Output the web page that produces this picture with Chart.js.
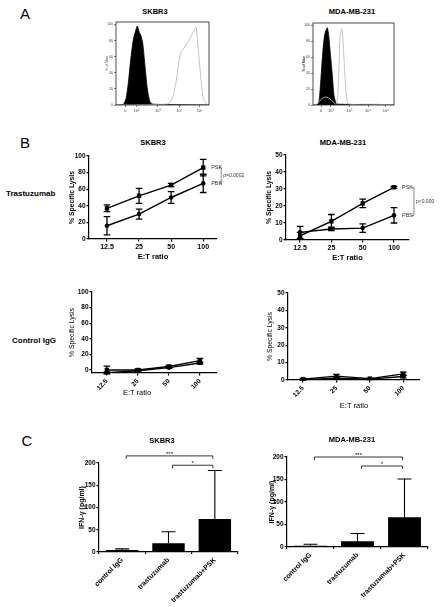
<!DOCTYPE html>
<html>
<head>
<meta charset="utf-8">
<script src="https://cdn.jsdelivr.net/npm/chart.js@4"></script>
<style>
body { margin: 0; background: #fff; }
#fig { position: relative; width: 443px; height: 607px; overflow: hidden; font-family: 'Liberation Sans', Arial, sans-serif; }
#fig canvas { position: absolute; }
.t { position: absolute; white-space: nowrap; line-height: 1; color: #000; z-index: 2; }
</style>
</head>
<body>
<div id="fig"></div>
<script>
// ---- data ----
// A: flow histograms (x = position across the log axis, 0-100; y = % of max)
const skbrIsoX = [0, 7.9, 10.8, 13.3, 15.8, 18.6, 21.1, 22.9, 25.1, 26.5, 28.7, 31.2, 33.7, 36.6, 40.1, 100];
const skbrIsoY = [0, 1, 8, 28, 56, 81, 92, 98, 90, 87, 77, 48, 20, 4, 1, 0];
const skbrHerX = [0, 52.7, 58.1, 61.6, 64.5, 67.0, 69.5, 72.4, 75.3, 77.8, 80.6, 83.9, 86.0, 88.5, 91.0, 93.9, 97.5, 100];
const skbrHerY = [0, 1, 3, 12, 28, 48, 65, 69, 75, 79, 85, 93, 97, 69, 36, 8, 1, 0];
const mdaIsoX = [0, 6.2, 8.2, 10.3, 12.3, 14.4, 16.5, 17.7, 19.3, 21.4, 23.9, 25.9, 28.8, 32.9, 100];
const mdaIsoY = [0, 1, 12, 41, 69, 88, 95, 97, 88, 65, 37, 12, 2, 1, 0];
const mdaHerX = [0, 4.1, 8.2, 12.3, 16.5, 20.6, 24.7, 28.8, 30.9, 32.1, 33.3, 35.0, 36.2, 37.9, 39.9, 42.0, 44.4, 60, 75, 100];
const mdaHerY = [0, 1, 5, 9, 10, 8, 4, 1, 16, 49, 82, 96, 92, 65, 29, 6, 1, 1, 1, 0];
const histTicks = [10, 22, 45, 68, 90];
const histTickLabels = ['0', '10²', '10³', '10⁴', '10⁵'];
const pctTicks = [0, 20, 40, 60, 80, 100];

// B: % specific lysis
const etRatios = ['12.5', '25', '50', '100'];
const skbrTrasPSK = [37, 52, 65, 86];
const skbrTrasPSKErr = [4, 9, 2, 10];
const skbrTrasPBS = [16, 30, 50, 67];
const skbrTrasPBSErr = [11, 6, 7, 11];
const mdaTrasPSK = [2.5, 11, 21.5, 31];
const mdaTrasPSKErr = [2, 4, 2.5, 0.5];
const mdaTrasPBS = [4.5, 6.5, 7, 14.5];
const mdaTrasPBSErr = [3.5, 1, 2.5, 4.5];
const skbrCtrlPSK = [0, 0, 4.5, 12];
const skbrCtrlPSKErr = [5, 1.5, 1.5, 3];
const skbrCtrlPBS = [-3.5, -1, 3, 9];
const skbrCtrlPBSErr = [1, 1, 1, 1.5];
const mdaCtrlPSK = [0.5, 2.2, 0.8, 3.5];
const mdaCtrlPSKErr = [0.4, 1, 0.3, 1];
const mdaCtrlPBS = [0.2, 1, 0.5, 2];
const mdaCtrlPBSErr = [0.3, 0.5, 0.3, 0.8];
const lysis100Ticks = [0, 20, 40, 60, 80, 100];
const lysis50Ticks = [0, 10, 20, 30, 40, 50];

// C: IFN-gamma
const groups = ['control IgG', 'trastuzumab', 'trastuzumab+PSK'];
const skbrIfn = [4.5, 19.5, 74];
const skbrIfnErr = [2.5, 26, 109];
const mdaIfn = [3, 13, 66];
const mdaIfnErr = [3, 17, 85];
const ifnTicks = [0, 50, 100, 150, 200];
const sigPairs = [[0, 2], [1, 2]];
const sigMarks = ['***', '*'];
const skbrSigAt = [216, 195];
const mdaSigAt = [200, 180];

// ---- helpers ----
const FONT = "'Liberation Sans', Arial, sans-serif";
Chart.defaults.font.family = FONT;
Chart.defaults.color = '#000';
Chart.defaults.animation = false;
Chart.defaults.plugins.legend.display = false;
Chart.defaults.plugins.tooltip.enabled = false;

const fig = document.getElementById('fig');

function text(str, x, y, size, weight, center) {
  const d = document.createElement('div');
  d.className = 't';
  d.textContent = str;
  d.style.left = x + 'px';
  d.style.top = y + 'px';
  d.style.fontSize = size + 'px';
  d.style.fontWeight = weight;
  d.style.transform = center ? 'translate(-50%,-50%)' : 'translate(0,-50%)';
  fig.appendChild(d);
}

// canvas sized so that the plot area lands on `a` (l, r, t, b in page px)
function place(a, yW, xH, padT, padR) {
  const c = document.createElement('canvas');
  c.width = yW + a.r - a.l + padR;
  c.height = padT + a.b - a.t + xH;
  c.style.left = (a.l - yW) + 'px';
  c.style.top = (a.t - padT) + 'px';
  fig.appendChild(c);
  return c;
}
const fixW = w => s => { s.width = w; s.paddingTop = s.paddingBottom = s.paddingLeft = s.paddingRight = 0; };
const fixH = h => s => { s.height = h; s.paddingTop = s.paddingBottom = s.paddingLeft = s.paddingRight = 0; };
const pts = arr => arr.map((v, i) => ({ x: i, y: v }));
const xy = (xs, ys) => xs.map((x, i) => ({ x: x, y: ys[i] }));

function yAxis(o) {
  return {
    type: 'linear', min: o.min, max: o.max,
    afterBuildTicks: s => { s.ticks = o.ticks.map(v => ({ value: v })); },
    afterFit: fixW(o.w),
    ticks: { padding: o.pad == null ? 1 : o.pad, font: { size: o.tick, weight: 'bold' } },
    grid: { drawOnChartArea: false, tickLength: o.tl || 2.5, color: '#000', lineWidth: o.lw || 1.2 },
    border: { color: '#000', width: o.lw || 1.2 },
    title: { display: true, text: o.title, padding: 0, font: { size: o.ts, weight: o.tb ? 'bold' : 'normal' } }
  };
}

function etAxis(o) {
  return {
    type: 'linear', min: o.min, max: o.max,
    afterBuildTicks: s => { s.ticks = etRatios.map((_, i) => ({ value: i })); },
    afterFit: fixH(o.h),
    ticks: {
      callback: v => etRatios[v], autoSkip: false, padding: o.pad || 1,
      minRotation: o.rot, maxRotation: o.rot, font: { size: o.tick, weight: 'bold' }
    },
    grid: { drawOnChartArea: false, tickLength: 2.5, color: '#000', lineWidth: 1.2 },
    border: { color: '#000', width: 1.2 },
    title: { display: !!o.title, text: 'E:T ratio', padding: 0, font: { size: 7.5, weight: o.tb ? 'bold' : 'normal' } }
  };
}

const errorBars = {
  id: 'errorBars',
  afterDatasetsDraw(chart) {
    const ctx = chart.ctx, ys = chart.scales.y;
    chart.data.datasets.forEach((d, i) => {
      if (!d.errors) return;
      const meta = chart.getDatasetMeta(i);
      ctx.save();
      ctx.strokeStyle = '#000';
      ctx.lineWidth = d.errWidth || 1.2;
      meta.data.forEach((el, j) => {
        const raw = d.data[j];
        const v = typeof raw === 'object' ? raw.y : raw;
        const e = d.errors[j];
        const top = ys.getPixelForValue(v + e);
        const bot = d.upOnly ? el.y : ys.getPixelForValue(v - e);
        const h = d.cap;
        ctx.beginPath();
        ctx.moveTo(el.x, top); ctx.lineTo(el.x, bot);
        ctx.moveTo(el.x - h, top); ctx.lineTo(el.x + h, top);
        if (!d.upOnly) { ctx.moveTo(el.x - h, bot); ctx.lineTo(el.x + h, bot); }
        ctx.stroke();
      });
      ctx.restore();
    });
  }
};

function endLabels(names, note, dx, bx) {
  return {
    id: 'endLabels',
    afterDatasetsDraw(chart) {
      const ctx = chart.ctx, xs = chart.scales.x, ys = chart.scales.y;
      ctx.save();
      ctx.font = '5.5px ' + FONT;
      ctx.fillStyle = '#333';
      ctx.textBaseline = 'middle';
      const yy = chart.data.datasets.map((d, i) => {
        const p = d.data[d.data.length - 1];
        const py = ys.getPixelForValue(p.y);
        ctx.fillText(names[i], xs.getPixelForValue(p.x) + dx, py);
        return py;
      });
      const x = xs.getPixelForValue(etRatios.length - 1) + bx;
      ctx.strokeStyle = '#555';
      ctx.lineWidth = 0.7;
      ctx.beginPath();
      ctx.moveTo(x - 2.5, yy[0]); ctx.lineTo(x, yy[0]); ctx.lineTo(x, yy[1]); ctx.lineTo(x - 2.5, yy[1]);
      ctx.stroke();
      ctx.font = '5px ' + FONT;
      ctx.fillText(note, x + 2, (yy[0] + yy[1]) / 2);
      ctx.restore();
    }
  };
}

function sigBrackets(levels) {
  return {
    id: 'sig',
    afterDraw(chart) {
      const ctx = chart.ctx, xs = chart.scales.x, ys = chart.scales.y;
      ctx.save();
      ctx.strokeStyle = '#000';
      ctx.lineWidth = 0.8;
      ctx.fillStyle = '#000';
      ctx.font = '6px ' + FONT;
      ctx.textAlign = 'center';
      ctx.textBaseline = 'bottom';
      sigPairs.forEach((p, k) => {
        const x1 = xs.getPixelForValue(p[0]) + 4, x2 = xs.getPixelForValue(p[1]) - 2;
        const y = ys.getPixelForValue(levels[k]);
        ctx.beginPath();
        ctx.moveTo(x1, y + 3); ctx.lineTo(x1, y); ctx.lineTo(x2, y); ctx.lineTo(x2, y + 3);
        ctx.stroke();
        ctx.fillText(sigMarks[k], (x1 + x2) / 2, y + 1);
      });
      ctx.restore();
    }
  };
}

const frame = {
  id: 'frame',
  afterDraw(chart) {
    const a = chart.chartArea, ctx = chart.ctx;
    ctx.save();
    ctx.strokeStyle = '#222';
    ctx.lineWidth = 0.8;
    ctx.strokeRect(a.left, a.top, a.right - a.left, a.bottom - a.top);
    ctx.restore();
  }
};

// ---- A: histograms ----
function histogram(area, iso, her, ytb) {
  new Chart(place(area, 11, 12, 4, 4), {
    type: 'line',
    data: {
      datasets: [
        { data: her, borderColor: '#bdbdbd', borderWidth: 0.9, pointRadius: 0, fill: false, tension: 0.25 },
        { data: iso, borderColor: '#000', backgroundColor: '#000', borderWidth: 0.8, pointRadius: 0, fill: 'origin', tension: 0.25 }
      ]
    },
    options: {
      responsive: false,
      layout: { padding: { top: 4, right: 4 } },
      scales: {
        x: {
          type: 'linear', min: 0, max: 100,
          afterBuildTicks: s => { s.ticks = histTicks.map(v => ({ value: v })); },
          afterFit: fixH(12),
          ticks: { callback: (v, i) => histTickLabels[i], autoSkip: false, maxRotation: 0, padding: 1, font: { size: 4 }, color: '#444' },
          grid: { drawOnChartArea: false, tickLength: 2, color: '#333', lineWidth: 0.6 },
          border: { display: false }
        },
        y: {
          type: 'linear', min: 0, max: 103,
          afterBuildTicks: s => { s.ticks = pctTicks.map(v => ({ value: v })); },
          afterFit: fixW(11),
          ticks: { padding: 1, font: { size: 3.5 }, color: '#444' },
          grid: { drawOnChartArea: false, tickLength: 2, color: '#333', lineWidth: 0.6 },
          border: { display: false },
          title: { display: true, text: '% of Max', padding: 0, color: '#444', font: { size: 3.5, weight: ytb ? 'bold' : 'normal' } }
        }
      }
    },
    plugins: [frame]
  });
}
histogram({ l: 116, r: 209, t: 22, b: 105 }, xy(skbrIsoX, skbrIsoY), xy(skbrHerX, skbrHerY), false);
histogram({ l: 313, r: 394, t: 23, b: 105 }, xy(mdaIsoX, mdaIsoY), xy(mdaHerX, mdaHerY), true);

// ---- B: lysis curves ----
function lysis(area, o) {
  const ds = (data, err, style, r) => ({
    data: pts(data), errors: err, cap: 3.3, errWidth: 1.3,
    borderColor: '#000', backgroundColor: '#000', borderWidth: 1.4,
    pointStyle: style, pointRadius: r, pointBorderWidth: 0
  });
  new Chart(place(area, o.yW, o.xH, 6, o.padR), {
    type: 'line',
    data: { datasets: [ds(o.psk, o.pskErr, 'rect', 3.1), ds(o.pbs, o.pbsErr, 'circle', 2.3)] },
    options: {
      responsive: false,
      layout: { padding: { top: 6, right: o.padR } },
      scales: {
        x: etAxis({ min: o.xmin, max: o.xmax, h: o.xH, rot: o.rot, tick: o.xtick, pad: o.xpad, title: o.xtitle, tb: o.tb }),
        y: yAxis({ min: o.ymin, max: o.ymax, ticks: o.yticks, w: o.yW, tick: 6.5, title: '% Specific Lysis', ts: 6.8, tb: o.tb })
      }
    },
    plugins: o.labels ? [errorBars, endLabels(['PSK', 'PBS'], o.note, 8, o.bx)] : [errorBars]
  });
}

lysis({ l: 89, r: 217, t: 156, b: 239 }, {
  psk: skbrTrasPSK, pskErr: skbrTrasPSKErr, pbs: skbrTrasPBS, pbsErr: skbrTrasPBSErr,
  xmin: -0.56, xmax: 3.43, ymin: 0, ymax: 100, yticks: lysis100Ticks,
  yW: 21, xH: 22, padR: 40, rot: 0, xtick: 7, xtitle: true, tb: true,
  labels: true, note: 'p=0.0002', bx: 18
});
lysis({ l: 286, r: 409, t: 155, b: 240 }, {
  psk: mdaTrasPSK, pskErr: mdaTrasPSKErr, pbs: mdaTrasPBS, pbsErr: mdaTrasPBSErr,
  xmin: -0.45, xmax: 3.48, ymin: 0, ymax: 50, yticks: lysis50Ticks,
  yW: 21, xH: 22, padR: 34, rot: 0, xtick: 7, xtitle: true, tb: true,
  labels: true, note: 'p<0.000', bx: 20
});
lysis({ l: 92, r: 217, t: 292, b: 373 }, {
  psk: skbrCtrlPSK, pskErr: skbrCtrlPSKErr, pbs: skbrCtrlPBS, pbsErr: skbrCtrlPBSErr,
  xmin: -0.48, xmax: 3.55, ymin: -3.85, ymax: 100, yticks: lysis100Ticks,
  yW: 24, xH: 26, padR: 5, rot: 45, xtick: 6.5, xpad: 2, xtitle: false, tb: false,
  labels: false
});
lysis({ l: 288, r: 420, t: 293, b: 380 }, {
  psk: mdaCtrlPSK, pskErr: mdaCtrlPSKErr, pbs: mdaCtrlPBS, pbsErr: mdaCtrlPBSErr,
  xmin: -0.45, xmax: 3.5, ymin: 0, ymax: 50, yticks: lysis50Ticks,
  yW: 22, xH: 30, padR: 5, rot: 45, xtick: 6.5, xpad: 2, xtitle: true, tb: false,
  labels: false
});

// ---- C: IFN-gamma bars ----
function ifn(area, vals, errs, sigAt, yW, xH) {
  new Chart(place(area, yW, xH, 16, 5), {
    type: 'bar',
    data: {
      labels: groups,
      datasets: [{
        data: vals, errors: errs, upOnly: true, cap: 7, errWidth: 1.1,
        backgroundColor: '#000', barPercentage: 0.7, categoryPercentage: 1
      }]
    },
    options: {
      responsive: false,
      layout: { padding: { top: 16, right: 5 } },
      scales: {
        x: {
          afterFit: fixH(xH),
          ticks: { autoSkip: false, minRotation: 45, maxRotation: 45, padding: 2, font: { size: 7, weight: 'bold' } },
          grid: { drawOnChartArea: false, tickLength: 2, color: '#000', lineWidth: 1.2 },
          border: { color: '#000', width: 1.2 }
        },
        y: yAxis({ min: 0, max: 200, ticks: ifnTicks, w: yW, tick: 6.5, title: 'IFN-γ (pg/ml)', ts: 7, tb: true })
      }
    },
    plugins: [errorBars, sigBrackets(sigAt)]
  });
}
ifn({ l: 99, r: 238, t: 463, b: 552 }, skbrIfn, skbrIfnErr, skbrSigAt, 21, 55);
ifn({ l: 287, r: 428, t: 457, b: 547 }, mdaIfn, mdaIfnErr, mdaSigAt, 19, 60);

// ---- free text ----
text('A', 25, 13, 15, 'normal', true);
text('B', 25, 142, 15, 'normal', true);
text('C', 27, 440, 15, 'normal', true);
text('SKBR3', 155, 12, 7.5, 'bold', true);
text('MDA-MB-231', 352, 12, 7.5, 'bold', true);
text('SKBR3', 153, 143, 7.5, 'bold', true);
text('MDA-MB-231', 343, 143, 7.5, 'bold', true);
text('Trastuzumab', 6, 194, 8, 'bold', false);
text('Control IgG', 12, 341, 8, 'bold', false);
text('E:T ratio', 137, 393, 7.5, 'normal', true);
text('SKBR3', 162, 441, 7.5, 'bold', true);
text('MDA-MB-231', 352, 440, 7.5, 'bold', true);
</script>
</body>
</html>
